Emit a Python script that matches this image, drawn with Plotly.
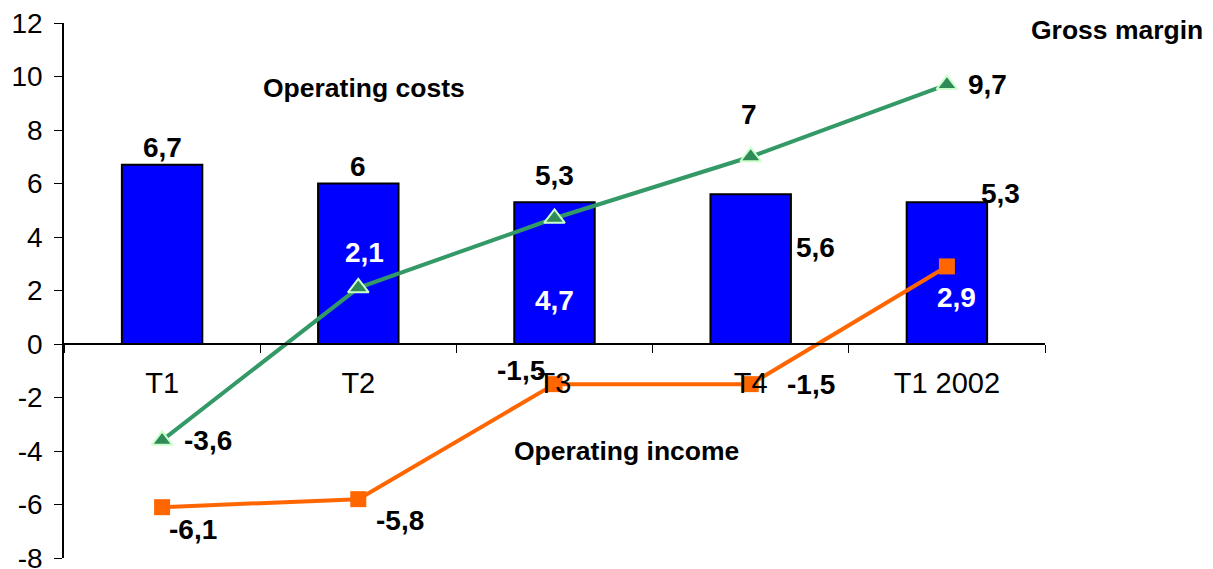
import plotly.graph_objects as go

categories = ["T1", "T2", "T3", "T4", "T1 2002"]
operating_costs = [6.7, 6.0, 5.3, 5.6, 5.3]
gross_margin = [-3.6, 2.1, 4.7, 7.0, 9.7]
operating_income = [-6.1, -5.8, -1.5, -1.5, 2.9]
y_ticks = list(range(-8, 13, 2))

FONT = "Arial, Liberation Sans, sans-serif"


def fmt(v):
    s = ("%g" % v).replace(".", ",")
    return s


fig = go.Figure()
fig.add_trace(go.Bar(
    x=categories, y=operating_costs, width=0.41,
    marker=dict(color="#0000FF", line=dict(color="#000000", width=2)),
    hoverinfo="skip",
))
fig.add_trace(go.Scatter(
    x=categories, y=gross_margin, mode="lines+markers",
    line=dict(color="#339966", width=4),
    marker=dict(symbol="triangle-up", size=18, color="#2E8B57",
                line=dict(color="#CCFFCC", width=2)),
    cliponaxis=False, hoverinfo="skip",
))
fig.add_trace(go.Scatter(
    x=categories, y=operating_income, mode="lines+markers",
    line=dict(color="#FF6600", width=4),
    marker=dict(symbol="square", size=16, color="#FF6600"),
    cliponaxis=False, hoverinfo="skip",
))

# label pixel offsets (xshift, yshift, color)
cost_off = [(0, 17, "black"), (0, 17, "black"), (0, 27, "black"), (65, -53, "black"), (54, 9, "black")]
gm_off = [(46, 0, "black"), (6, 35, "white"), (0, -82, "white"), (-2, 42, "black"), (41, 0, "black")]
oi_off = [(31, -22, "black"), (42, -21, "black"), (-34, 14, "black"), (60, 0, "black"), (10, -31, "white")]

ann = []
for series, offs in ((operating_costs, cost_off), (gross_margin, gm_off), (operating_income, oi_off)):
    for c, v, (dx, dy, col) in zip(categories, series, offs):
        ann.append(dict(x=c, y=v, xref="x", yref="y", text=fmt(v), showarrow=False,
                        xshift=dx, yshift=dy, xanchor="center", yanchor="middle",
                        font=dict(family=FONT, size=28, color=col, weight="bold")))

names = [("Operating costs", 0.306, 0.8785), ("Gross margin", 1.0734, 0.987),
         ("Operating income", 0.573, 0.2)]
for t, px, py in names:
    ann.append(dict(x=px, y=py, xref="paper", yref="paper", text=t, showarrow=False,
                    xanchor="center", yanchor="middle",
                    font=dict(family=FONT, size=26.5, color="black", weight="bold")))

fig.update_layout(
    width=1213, height=569,
    margin=dict(l=64, r=168, t=23, b=11),
    plot_bgcolor="white", paper_bgcolor="white",
    showlegend=False,
    annotations=ann,
    font=dict(family=FONT, color="black"),
)
fig.update_xaxes(
    type="category", range=[-0.5, 4.5],
    anchor="free", position=0.4,
    showline=True, linecolor="black", linewidth=1.5,
    ticks="outside", ticklen=8, tickcolor="black", tickwidth=1,
    tickson="boundaries", ticklabelstandoff=13,
    tickfont=dict(family=FONT, size=29, color="black"),
    ticklabeloverflow="allow",
    showgrid=False, zeroline=False, automargin=False,
)
fig.update_yaxes(
    range=[-8, 12], tickvals=y_ticks, ticktext=[str(v) for v in y_ticks],
    showline=True, linecolor="black", linewidth=1.5,
    ticks="outside", ticklen=8, tickcolor="black", tickwidth=1,
    ticklabelstandoff=6,
    tickfont=dict(family=FONT, size=28, color="black"),
    ticklabeloverflow="allow",
    showgrid=False, zeroline=False, automargin=False,
)

fig.write_html("out.html")
